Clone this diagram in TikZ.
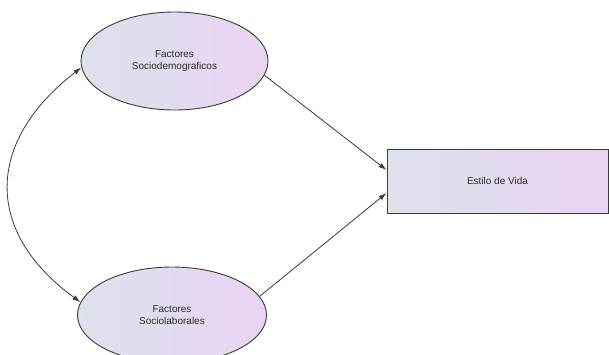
\documentclass[tikz,border=0pt]{standalone}
\usepackage{fontspec}
\setmainfont{Liberation Sans}
\usetikzlibrary{shapes.geometric,arrows.meta}
\definecolor{leftc}{HTML}{DDE2EC}
\definecolor{rightc}{HTML}{EAD3F2}
\definecolor{edge}{HTML}{3A3A3A}
\definecolor{txt}{HTML}{2A2A2A}
\tikzset{
  latent/.style={ellipse, draw=edge, line width=0.9pt, left color=leftc, right color=rightc,
    inner sep=0pt, align=center, text=txt, font=\fontsize{10}{12}\selectfont},
  observed/.style={rectangle, draw=edge, line width=0.9pt, left color=leftc, right color=rightc,
    inner sep=0pt, align=center, text=txt, font=\fontsize{10}{12}\selectfont},
  conn/.style={draw=edge, line width=0.8pt, -{Latex[length=8pt,width=5pt]}},
  biconn/.style={draw=edge, line width=0.8pt, {Latex[length=8pt,width=5pt]}-{Latex[length=8pt,width=5pt]}}
}
\begin{document}
\begin{tikzpicture}[x=1pt,y=-1pt]
\useasboundingbox (0,0) rectangle (609,354);
\node[latent, minimum width=187pt, minimum height=98pt] (soc) at (174.5,61) {Factores\\Sociodemograficos};
\node[latent, minimum width=189pt, minimum height=96pt] (lab) at (172,315) {Factores\\Sociolaborales};
\node[observed, minimum width=221pt, minimum height=64pt] (ev) at (497.5,181) {Estilo de Vida};
\draw[conn] (soc.-9) -- ([yshift=11pt]ev.west);
\draw[conn] (lab.12) -- ([yshift=-12pt]ev.west);
\draw[biconn] (lab.172) .. controls (-16,232) and (-15,142) .. (soc.184);
\end{tikzpicture}
\end{document}
